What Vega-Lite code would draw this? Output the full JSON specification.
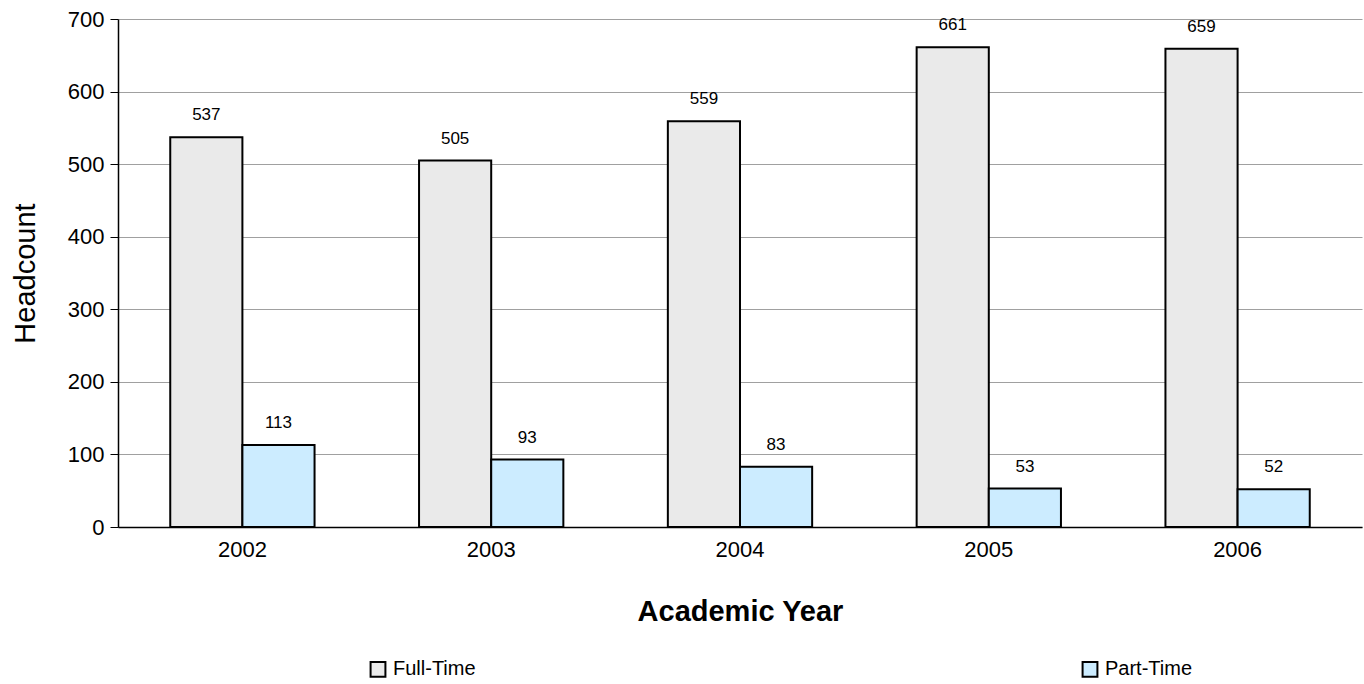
{
  "$schema": "https://vega.github.io/schema/vega-lite/v6.json",
  "width": 1244,
  "height": 508,
  "autosize": {"type": "none"},
  "padding": {"left": 118, "top": 19, "right": 2, "bottom": 157},
  "background": "white",
  "config": {
    "font": "Liberation Sans",
    "view": {"stroke": null}
  },
  "data": {
    "values": [
      {"year": "2002", "type": "Full-Time", "count": 537},
      {"year": "2002", "type": "Part-Time", "count": 113},
      {"year": "2003", "type": "Full-Time", "count": 505},
      {"year": "2003", "type": "Part-Time", "count": 93},
      {"year": "2004", "type": "Full-Time", "count": 559},
      {"year": "2004", "type": "Part-Time", "count": 83},
      {"year": "2005", "type": "Full-Time", "count": 661},
      {"year": "2005", "type": "Part-Time", "count": 53},
      {"year": "2006", "type": "Full-Time", "count": 659},
      {"year": "2006", "type": "Part-Time", "count": 52}
    ]
  },
  "encoding": {
    "x": {
      "field": "year", "type": "nominal",
      "scale": {"paddingInner": 0.42, "paddingOuter": 0.21},
      "axis": {
        "title": "Academic Year", "titleFontSize": 29, "titleFontWeight": "bold",
        "titleColor": "black", "titlePadding": 37,
        "labelAngle": 0, "labelFontSize": 22, "labelColor": "black", "labelPadding": 12,
        "ticks": false, "domainColor": "black", "domainWidth": 1.5, "grid": false
      }
    },
    "xOffset": {"field": "type", "type": "nominal", "scale": {"paddingInner": 0, "paddingOuter": 0}},
    "y": {
      "field": "count", "type": "quantitative",
      "scale": {"domain": [0, 700], "nice": false},
      "axis": {
        "title": "Headcount", "titleFontSize": 29, "titleFontWeight": "normal",
        "titleColor": "black", "titlePadding": 27,
        "values": [0, 100, 200, 300, 400, 500, 600, 700],
        "labelFontSize": 22, "labelColor": "black", "labelPadding": 6,
        "tickColor": "black", "tickSize": 8, "domainColor": "black", "domainWidth": 1.5,
        "gridColor": "#a0a0a0", "gridWidth": 1
      }
    }
  },
  "layer": [
    {
      "mark": {"type": "bar", "stroke": "black", "strokeWidth": 2},
      "encoding": {
        "fill": {
          "field": "type", "type": "nominal",
          "scale": {"domain": ["Full-Time", "Part-Time"], "range": ["#EAEAEA", "#CCECFF"]},
          "legend": {
            "title": null, "orient": "none", "direction": "horizontal", "columns": 2,
            "legendX": 250, "legendY": 640,
            "symbolType": "square", "symbolSize": 220, "symbolStrokeColor": "black",
            "symbolStrokeWidth": 2, "labelFontSize": 20, "labelColor": "black",
            "columnPadding": 602, "labelOffset": 5
          }
        }
      }
    },
    {
      "mark": {"type": "text", "baseline": "bottom", "dy": -13, "fontSize": 17, "color": "black"},
      "encoding": {"text": {"field": "count", "type": "quantitative"}}
    }
  ]
}
